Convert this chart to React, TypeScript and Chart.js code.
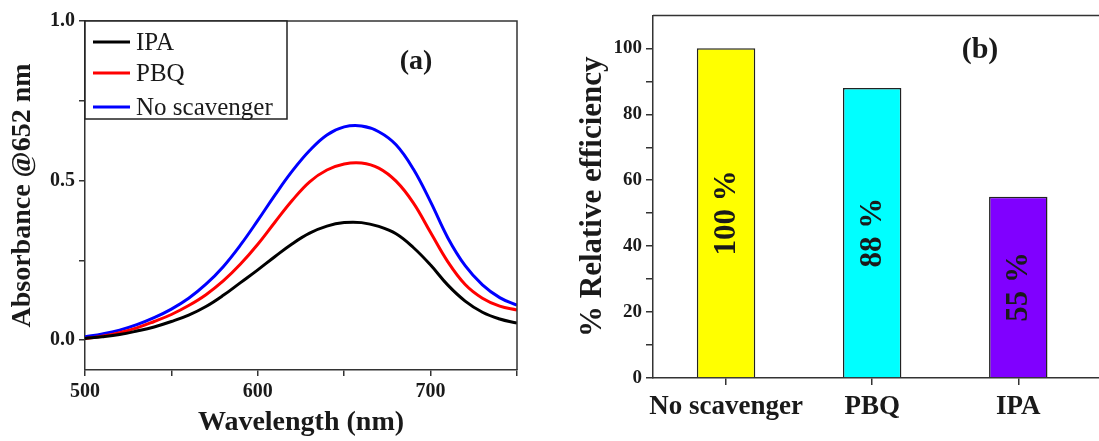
import React, { useEffect, useRef } from "react";
import { Chart, registerables } from "chart.js";

Chart.register(...registerables);

const SERIF = "'Liberation Serif', 'Times New Roman', serif";

// ---- Panel (a) data ----
const wavelengths = [500, 510, 520, 530, 540, 550, 560, 570, 580, 590, 600, 610, 620, 630, 640, 650, 660, 670, 680, 690, 700, 710, 720, 730, 740, 750];
const ipa = [0.005, 0.010, 0.017, 0.028, 0.041, 0.058, 0.078, 0.105, 0.140, 0.180, 0.220, 0.262, 0.302, 0.335, 0.357, 0.368, 0.368, 0.356, 0.333, 0.290, 0.235, 0.172, 0.122, 0.087, 0.066, 0.053];
const pbq = [0.005, 0.012, 0.023, 0.038, 0.058, 0.080, 0.108, 0.142, 0.185, 0.238, 0.300, 0.370, 0.438, 0.496, 0.533, 0.552, 0.555, 0.539, 0.498, 0.430, 0.337, 0.245, 0.174, 0.131, 0.106, 0.094];
const noScavenger = [0.010, 0.019, 0.031, 0.048, 0.070, 0.097, 0.131, 0.175, 0.230, 0.298, 0.375, 0.455, 0.530, 0.594, 0.643, 0.668, 0.671, 0.653, 0.612, 0.536, 0.433, 0.320, 0.233, 0.173, 0.133, 0.109];
const seriesNames = ["IPA", "PBQ", "No scavenger"];
const seriesColors = ["#000000", "#ff0000", "#0000ff"];
const xTicksA = [500, 550, 600, 650, 700, 750];
const xLabelsA = [500, 600, 700];
const yTicksA = [0, 0.25, 0.5, 0.75, 1.0];
const yLabelsA = [0, 0.5, 1.0];

// ---- Panel (b) data ----
const categories = ["No scavenger", "PBQ", "IPA"];
const efficiency = [100, 88, 55];
const barLabels = ["100 %", "88 %", "55 %"];
const barColors = ["#ffff00", "#00ffff", "#8000ff"];
const yTicksB = [0, 10, 20, 30, 40, 50, 60, 70, 80, 90, 100];
const yLabelsB = [0, 20, 40, 60, 80, 100];

const AXIS = "#333333";
const TEXT = "#1a1a1a";

const legendPluginA = {
  id: "legendA",
  afterDraw(chart: any) {
    const { ctx, chartArea } = chart;
    const { left, top, right } = chartArea;
    ctx.save();
    ctx.strokeStyle = AXIS;
    ctx.lineWidth = 1.5;
    ctx.beginPath();
    ctx.moveTo(left, top);
    ctx.lineTo(right, top);
    ctx.lineTo(right, chartArea.bottom);
    ctx.stroke();
    ctx.lineWidth = 1.5;
    ctx.strokeStyle = "#222";
    ctx.fillStyle = "#ffffff";
    ctx.fillRect(left, top, 202, 98);
    ctx.strokeRect(left, top, 202, 98);
    const rows = [21, 52, 86];
    seriesNames.forEach((name, i) => {
      const y = top + rows[i];
      ctx.strokeStyle = seriesColors[i];
      ctx.lineWidth = 3;
      ctx.beginPath();
      ctx.moveTo(left + 8, y);
      ctx.lineTo(left + 45, y);
      ctx.stroke();
      ctx.fillStyle = TEXT;
      ctx.font = `25px ${SERIF}`;
      ctx.textAlign = "left";
      ctx.textBaseline = "middle";
      ctx.fillText(name, left + 51, y + 1);
    });
    ctx.font = `bold 28px ${SERIF}`;
    ctx.textAlign = "center";
    ctx.textBaseline = "middle";
    ctx.fillStyle = TEXT;
    ctx.fillText("(a)", 416, 62);
    ctx.restore();
  },
};

const barPluginB = {
  id: "barLabelsB",
  afterDraw(chart: any) {
    const { ctx, chartArea } = chart;
    ctx.save();
    ctx.strokeStyle = AXIS;
    ctx.lineWidth = 1.5;
    ctx.beginPath();
    ctx.moveTo(chartArea.left, chartArea.top);
    ctx.lineTo(chartArea.right, chartArea.top);
    ctx.stroke();
    const meta = chart.getDatasetMeta(0);
    meta.data.forEach((bar: any, i: number) => {
      const cy = (bar.y + bar.base) / 2;
      ctx.save();
      ctx.translate(bar.x, cy);
      ctx.rotate(-Math.PI / 2);
      ctx.font = `bold 31px ${SERIF}`;
      ctx.textAlign = "center";
      ctx.textBaseline = "middle";
      ctx.fillStyle = TEXT;
      ctx.fillText(barLabels[i], 0, 1);
      ctx.restore();
    });
    ctx.font = `bold 30px ${SERIF}`;
    ctx.textAlign = "center";
    ctx.textBaseline = "middle";
    ctx.fillStyle = TEXT;
    ctx.fillText("(b)", 420, 50);
    ctx.restore();
  },
};

function LineChart() {
  const ref = useRef<HTMLCanvasElement | null>(null);
  useEffect(() => {
    if (!ref.current) return;
    const series = [ipa, pbq, noScavenger];
    const chart = new Chart(ref.current, {
      type: "line",
      data: {
        datasets: series.map((s, i) => ({
          label: seriesNames[i],
          data: wavelengths.map((w, j) => ({ x: w, y: s[j] })),
          borderColor: seriesColors[i],
          backgroundColor: seriesColors[i],
          borderWidth: 3,
          pointRadius: 0,
          tension: 0.4,
          fill: false,
        })),
      },
      options: {
        animation: false,
        responsive: false,
        events: [],
        layout: { padding: { top: 21, right: 43, left: 0, bottom: 0 } },
        plugins: { legend: { display: false }, tooltip: { enabled: false } },
        scales: {
          x: {
            type: "linear",
            min: 500,
            max: 750,
            afterBuildTicks: (scale: any) => {
              scale.ticks = xTicksA.map((v) => ({ value: v }));
            },
            afterFit: (scale: any) => {
              scale.height = 71;
            },
            ticks: {
              color: TEXT,
              font: { family: SERIF, size: 20, weight: "bold" },
              padding: 4,
              maxRotation: 0,
              autoSkip: false,
              callback: (v: any) => (xLabelsA.includes(Number(v)) ? String(v) : ""),
            },
            grid: { drawOnChartArea: false, drawTicks: true, tickLength: 6, color: AXIS, lineWidth: 1.5 },
            border: { display: true, color: AXIS, width: 1.5 },
            title: {
              display: true,
              text: "Wavelength (nm)",
              color: TEXT,
              font: { family: SERIF, size: 28, weight: "bold" },
              padding: { top: 0, bottom: 1 },
            },
          },
          y: {
            type: "linear",
            min: -0.094,
            max: 1.0,
            afterBuildTicks: (scale: any) => {
              scale.ticks = yTicksA.map((v) => ({ value: v }));
            },
            afterFit: (scale: any) => {
              scale.width = 85;
            },
            ticks: {
              color: TEXT,
              font: { family: SERIF, size: 20, weight: "bold" },
              padding: 4,
              autoSkip: false,
              callback: (v: any) => (yLabelsA.includes(Number(v)) ? Number(v).toFixed(1) : ""),
            },
            grid: { drawOnChartArea: false, drawTicks: true, tickLength: 6, color: AXIS, lineWidth: 1.5 },
            border: { display: true, color: AXIS, width: 1.5 },
            title: {
              display: true,
              text: "Absorbance @652 nm",
              color: TEXT,
              font: { family: SERIF, size: 28, weight: "bold" },
              padding: { top: 6, bottom: 0 },
            },
          },
        },
      },
      plugins: [legendPluginA],
    } as any);
    return () => chart.destroy();
  }, []);
  return (
    <canvas
      ref={ref}
      width={560}
      height={441}
      style={{ position: "absolute", left: 0, top: 0, width: 560, height: 441 }}
    />
  );
}

function BarChart() {
  const ref = useRef<HTMLCanvasElement | null>(null);
  useEffect(() => {
    if (!ref.current) return;
    const chart = new Chart(ref.current, {
      type: "bar",
      data: {
        datasets: [
          {
            label: "% Relative efficiency",
            data: categories.map((_, i) => ({ x: i + 1, y: efficiency[i] })),
            backgroundColor: barColors,
            borderColor: "#222222",
            borderWidth: 1.5,
            barPercentage: 0.4,
            categoryPercentage: 1,
          },
        ],
      },
      options: {
        animation: false,
        responsive: false,
        events: [],
        layout: { padding: { top: 14, right: 0, left: 0, bottom: 0 } },
        plugins: { legend: { display: false }, tooltip: { enabled: false } },
        scales: {
          x: {
            type: "linear",
            min: 0.5,
            max: 3.97,
            offset: false,
            afterBuildTicks: (scale: any) => {
              scale.ticks = categories.map((_, i) => ({ value: i + 1 }));
            },
            afterFit: (scale: any) => {
              scale.height = 63;
            },
            ticks: {
              color: TEXT,
              font: { family: SERIF, size: 27, weight: "bold" },
              padding: 6,
              maxRotation: 0,
              autoSkip: false,
              callback: (v: any) => categories[Math.round(Number(v)) - 1] ?? "",
            },
            grid: { offset: false, drawOnChartArea: false, drawTicks: true, tickLength: 7, color: AXIS, lineWidth: 1.5 },
            border: { display: true, color: AXIS, width: 1.5 },
          },
          y: {
            type: "linear",
            min: 0,
            max: 110,
            afterBuildTicks: (scale: any) => {
              scale.ticks = yTicksB.map((v) => ({ value: v }));
            },
            afterFit: (scale: any) => {
              scale.width = 93;
            },
            ticks: {
              color: TEXT,
              font: { family: SERIF, size: 19, weight: "bold" },
              padding: 4,
              autoSkip: false,
              callback: (v: any) => (yLabelsB.includes(Number(v)) ? String(v) : ""),
            },
            grid: { drawOnChartArea: false, drawTicks: true, tickLength: 7, color: AXIS, lineWidth: 1.5 },
            border: { display: true, color: AXIS, width: 1.5 },
            title: {
              display: true,
              text: "% Relative efficiency",
              color: TEXT,
              font: { family: SERIF, size: 31, weight: "bold" },
              padding: { top: 14, bottom: 0 },
            },
          },
        },
      },
      plugins: [barPluginB],
    } as any);
    return () => chart.destroy();
  }, []);
  return (
    <canvas
      ref={ref}
      width={600}
      height={441}
      style={{ position: "absolute", left: 560, top: 0, width: 600, height: 441 }}
    />
  );
}

export default function App() {
  return (
    <div
      style={{
        position: "fixed",
        left: 0,
        top: 0,
        width: 1099,
        height: 441,
        overflow: "hidden",
        background: "#ffffff",
      }}
    >
      <LineChart />
      <BarChart />
    </div>
  );
}
